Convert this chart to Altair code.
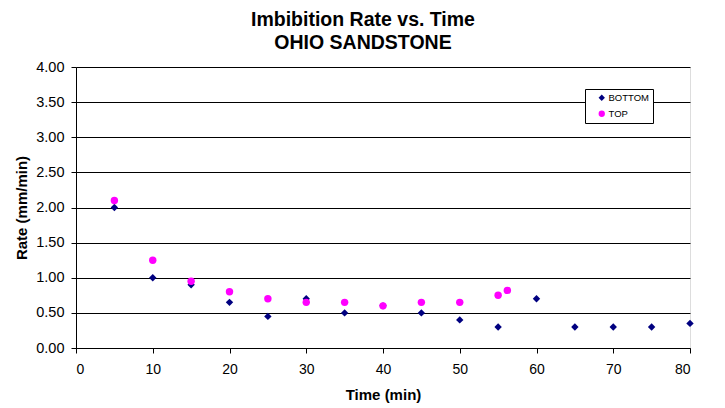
import altair as alt
import pandas as pd

bottom_time = [5, 10, 15, 20, 25, 30, 35, 40, 45, 50, 55, 60, 65, 70, 75, 80]
bottom_rate = [2.00, 1.00, 0.90, 0.65, 0.45, 0.70, 0.50, 0.60, 0.50, 0.40, 0.30, 0.70, 0.30, 0.30, 0.30, 0.35]
top_time = [5, 10, 15, 20, 25, 30, 35, 40, 45, 50, 55, 56.2]
top_rate = [2.10, 1.25, 0.95, 0.80, 0.70, 0.65, 0.65, 0.60, 0.65, 0.65, 0.75, 0.82]

df = pd.concat([
    pd.DataFrame({"Time": bottom_time, "Rate": bottom_rate, "Series": "BOTTOM"}),
    pd.DataFrame({"Time": top_time, "Rate": top_rate, "Series": "TOP"}),
])
df["order"] = (df["Series"] == "TOP").astype(int)

font = "Liberation Sans"

chart = alt.Chart(df).mark_point(filled=True, opacity=1, size=55).encode(
    x=alt.X("Time:Q", title="Time (min)",
            scale=alt.Scale(domain=[0, 80], nice=False),
            axis=alt.Axis(values=list(range(0, 81, 10)), grid=False, format="d",
                          domainColor="black", tickColor="black", tickSize=5,
                          labelFontSize=14, labelColor="black", labelPadding=9,
                          titleFontSize=15, titleFontWeight="bold", titleColor="black",
                          titlePadding=11, labelFont=font, titleFont=font)),
    y=alt.Y("Rate:Q", title="Rate (mm/min)",
            scale=alt.Scale(domain=[0, 4], nice=False),
            axis=alt.Axis(values=[i * 0.5 for i in range(9)], format=".2f",
                          grid=True, gridColor="black", gridOpacity=1,
                          domainColor="black", tickColor="black", tickSize=5,
                          labelFontSize=14.5, labelColor="black", labelPadding=7,
                          titleFontSize=15, titleFontWeight="bold", titleColor="black",
                          titlePadding=6, labelFont=font, titleFont=font)),
    color=alt.Color("Series:N",
                    scale=alt.Scale(domain=["BOTTOM", "TOP"], range=["#000080", "#FF00FF"]),
                    legend=alt.Legend(title=None, orient="none", legendX=509, legendY=22,
                                      fillColor="white", strokeColor="black",
                                      padding=4, labelFontSize=9.5, labelFont=font,
                                      labelColor="black", symbolSize=40, rowPadding=5,
                                      symbolOffset=8, labelOffset=2, cornerRadius=0,
                                      labelExpr="datum.label + '   '")),
    shape=alt.Shape("Series:N",
                    scale=alt.Scale(domain=["BOTTOM", "TOP"], range=["diamond", "circle"]),
                    legend=None),
    order="order:Q",
).properties(
    width=614, height=281,
    title=alt.TitleParams(["Imbibition Rate vs. Time", "OHIO SANDSTONE"],
                          fontSize=19.5, font=font, fontWeight="bold", color="black",
                          anchor="middle", offset=6, lineHeight=23, dx=-20),
    autosize=alt.AutoSizeParams(type="none"),
    padding={"left": 76, "top": 67, "right": 35, "bottom": 60},
).configure_view(stroke="#808080", strokeWidth=1).configure(background="white")

chart.save("out.html", embed_options={"renderer": "svg", "actions": False})
